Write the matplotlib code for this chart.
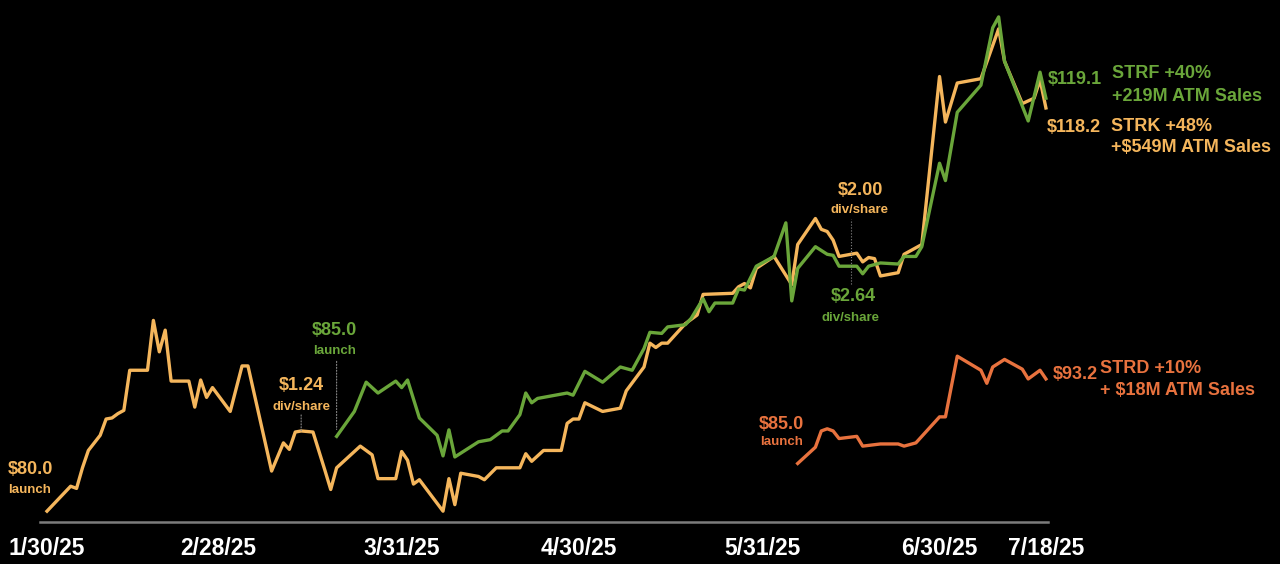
import pandas as pd
import matplotlib
matplotlib.use("Agg")
import matplotlib.pyplot as plt

plt.rcParams["font.family"] = ["Liberation Sans", "DejaVu Sans"]
plt.rcParams["font.weight"] = "bold"

# Дни считаются от запуска STRK (1/30/25)
start = pd.Timestamp("2025-01-30")

strk_day = [0, 4, 5, 6, 7, 9, 10, 11, 12, 13, 14, 17, 18, 19, 20, 21, 24, 25, 26, 27,
            28, 31, 33, 34, 38, 39, 40, 41, 42, 43, 45, 47, 48, 49, 53, 55, 56, 59, 60, 61,
            62, 63, 67, 68, 69, 70, 73, 74, 76, 80, 81, 82, 84, 87, 88, 89, 90, 91, 94, 97,
            98, 101, 102, 103, 104, 105, 108, 110, 111, 116, 117, 118, 119, 120, 123, 126, 127, 130, 131, 132,
            133, 134, 137, 138, 139, 140, 141, 144, 145, 148, 151, 152, 154, 158, 161, 162, 165, 167, 168, 169]
strk_val = [81.0, 83.3, 83.1, 85.0, 86.6, 88.0, 89.5, 89.6, 90.0, 90.3, 94.0, 94.0, 98.6, 95.7, 97.7, 93.0, 93.0, 90.6, 93.1, 91.5,
            92.4, 90.2, 94.4, 94.4, 84.7, 86.0, 87.3, 86.7, 88.3, 88.4, 88.3, 84.8, 83.0, 85.0, 87.0, 86.2, 84.0, 84.0, 86.5, 85.7,
            83.5, 83.9, 81.0, 84.0, 81.6, 84.5, 84.2, 83.9, 85.0, 85.0, 86.3, 85.6, 86.6, 86.6, 89.1, 89.5, 89.5, 91.0, 90.2, 90.5,
            92.1, 94.3, 96.5, 96.1, 96.5, 96.5, 98.3, 99.1, 101.0, 101.1, 101.7, 102.0, 101.6, 103.4, 104.5, 101.9, 105.6, 108.0, 107.0, 106.8,
            106.0, 104.5, 104.8, 104.0, 104.4, 104.3, 102.7, 103.0, 104.7, 105.6, 121.1, 116.9, 120.5, 120.9, 125.5, 122.5, 118.6, 119.1, 120.8, 118.2]

strf_day = [49, 52, 54, 56, 59, 60, 61, 63, 66, 67, 68, 69, 73, 75, 77, 78, 80, 81, 82, 83,
            88, 89, 91, 94, 97, 99, 101, 102, 104, 105, 108, 109, 111, 112, 113, 116, 117, 118, 120, 123,
            125, 126, 127, 130, 132, 133, 134, 137, 138, 139, 141, 144, 145, 147, 148, 151, 152, 154, 158, 160,
            161, 162, 166, 168, 169]
strf_val = [87.9, 90.2, 92.9, 91.9, 93.0, 92.4, 93.1, 89.6, 88.0, 86.1, 88.5, 86.0, 87.4, 87.6, 88.4, 88.4, 89.9, 91.9, 91.0, 91.4,
            91.9, 91.7, 93.9, 92.9, 94.3, 94.0, 96.0, 97.5, 97.4, 98.0, 98.2, 98.8, 100.6, 99.4, 100.2, 100.2, 101.5, 101.4, 103.6, 104.5,
            107.6, 100.4, 103.4, 105.4, 104.7, 104.6, 103.6, 103.6, 102.9, 103.6, 103.9, 103.8, 104.5, 104.5, 105.4, 113.1, 111.5, 117.8, 120.3, 125.6,
            126.6, 122.5, 117.0, 121.5, 119.1]

strd_day = [127, 130, 131, 132, 133, 134, 137, 138, 141, 144, 145, 147, 151, 152, 154, 158, 159, 160, 162, 165,
            166, 168, 169]
strd_val = [85.4, 86.9, 88.4, 88.6, 88.4, 87.7, 87.9, 87.0, 87.2, 87.2, 87.0, 87.3, 89.7, 89.7, 95.3, 94.0, 92.8, 94.3, 95.0, 94.1,
            93.2, 94.0, 93.2]

tick_dates = ["2025-01-30", "2025-02-28", "2025-03-31", "2025-04-30", "2025-05-31", "2025-06-30", "2025-07-18"]
tick_labels = ["1/30/25", "2/28/25", "3/31/25", "4/30/25", "5/31/25", "6/30/25", "7/18/25"]

div_date = pd.Timestamp("2025-06-15")

ORANGE = "#F5B65C"
GREEN = "#6AA63A"
RED = "#E8723E"
DOT = "#8a8a8a"


def to_dates(days):
    return [start + pd.Timedelta(days=d) for d in days]


strk_x = to_dates(strk_day)
strf_x = to_dates(strf_day)
strd_x = to_dates(strd_day)

fig = plt.figure(figsize=(12.8, 5.64), dpi=100, facecolor="black")
ax = fig.add_axes([0, 42 / 564, 1, 522 / 564])
ax.set_facecolor("black")

ax.plot(strk_x, strk_val, color=ORANGE, lw=2.4)
ax.plot(strf_x, strf_val, color=GREEN, lw=2.4)
ax.plot(strd_x, strd_val, color=RED, lw=2.4)

ax.set_xlim(start - pd.Timedelta(days=7.95), start + pd.Timedelta(days=208.6))
ax.set_ylim(80.0, 128.16)

# базовая линия
ax.axhline(80.0, xmin=40 / 1280, xmax=1048 / 1280, color="#7c7c7c", lw=1.8, clip_on=False)

for s in ax.spines.values():
    s.set_visible(False)
ax.set_yticks([])
ax.set_xticks(pd.to_datetime(tick_dates))
ax.set_xticklabels(tick_labels)
ax.tick_params(axis="x", length=0, pad=11, labelsize=16.5, labelcolor="white")
for t in ax.get_xticklabels():
    t.set_fontweight("bold")

BIG = 13
SMALL = 9.5


def note(x, y, dx, dy, text, color, size, ha="center"):
    ax.annotate(text, xy=(x, y), xytext=(dx, dy), textcoords="offset pixels",
                ha=ha, va="center", color=color, fontsize=size, fontweight="bold")


# запуски
note(strk_x[0], strk_val[0], -17, 42, "$80.0", ORANGE, BIG)
note(strk_x[0], strk_val[0], -17, 21, "launch", ORANGE, SMALL)

note(strf_x[0], strf_val[0], -2, 106, "$85.0", GREEN, BIG)
note(strf_x[0], strf_val[0], -2, 85, "launch", GREEN, SMALL)
ax.annotate("", xy=(strf_x[0], strf_val[0]), xytext=(0, 75), textcoords="offset pixels",
            xycoords="data", arrowprops=dict(arrowstyle="-", color=DOT, lw=0.8, ls=":",
                                             shrinkA=0, shrinkB=5))

note(strd_x[0], strd_val[0], -16, 39, "$85.0", RED, BIG)
note(strd_x[0], strd_val[0], -16, 21, "launch", RED, SMALL)

# дивиденды
i43 = strk_day.index(43)
note(strk_x[i43], strk_val[i43], 0, 45, "$1.24", ORANGE, BIG)
note(strk_x[i43], strk_val[i43], 0, 24, "div/share", ORANGE, SMALL)
ax.annotate("", xy=(strk_x[i43], strk_val[i43]), xytext=(0, 16), textcoords="offset pixels",
            arrowprops=dict(arrowstyle="-", color=DOT, lw=0.8, ls=":", shrinkA=0, shrinkB=0))

ax.vlines(div_date, 102.0, 108.0, colors=DOT, lw=0.8, linestyles=":")
note(div_date, 108.0, 10, 28, "$2.00", ORANGE, BIG)
note(div_date, 108.0, 9, 9, "div/share", ORANGE, SMALL)
note(div_date, 102.0, 2, -13, "$2.64", GREEN, BIG)
note(div_date, 102.0, 0, -34, "div/share", GREEN, SMALL)

# подписи в конце линий
note(strf_x[-1], strf_val[-1], 2, 19, f"${strf_val[-1]:.1f}", GREEN, BIG, ha="left")
note(strf_x[-1], strf_val[-1], 66, 25, "STRF +40%", GREEN, BIG, ha="left")
note(strf_x[-1], strf_val[-1], 66, 2, "+219M ATM Sales", GREEN, BIG, ha="left")

note(strk_x[-1], strk_val[-1], 1, -20, f"${strk_val[-1]:.1f}", ORANGE, BIG, ha="left")
note(strk_x[-1], strk_val[-1], 65, -19, "STRK +48%", ORANGE, BIG, ha="left")
note(strk_x[-1], strk_val[-1], 65, -40, "+$549M ATM Sales", ORANGE, BIG, ha="left")

note(strd_x[-1], strd_val[-1], 7, 4, f"${strd_val[-1]:.1f}", RED, BIG, ha="left")
note(strd_x[-1], strd_val[-1], 54, 10, "STRD +10%", RED, BIG, ha="left")
note(strd_x[-1], strd_val[-1], 54, -12, "+ $18M ATM Sales", RED, BIG, ha="left")

fig.savefig("out.png", dpi=100, facecolor="black")
